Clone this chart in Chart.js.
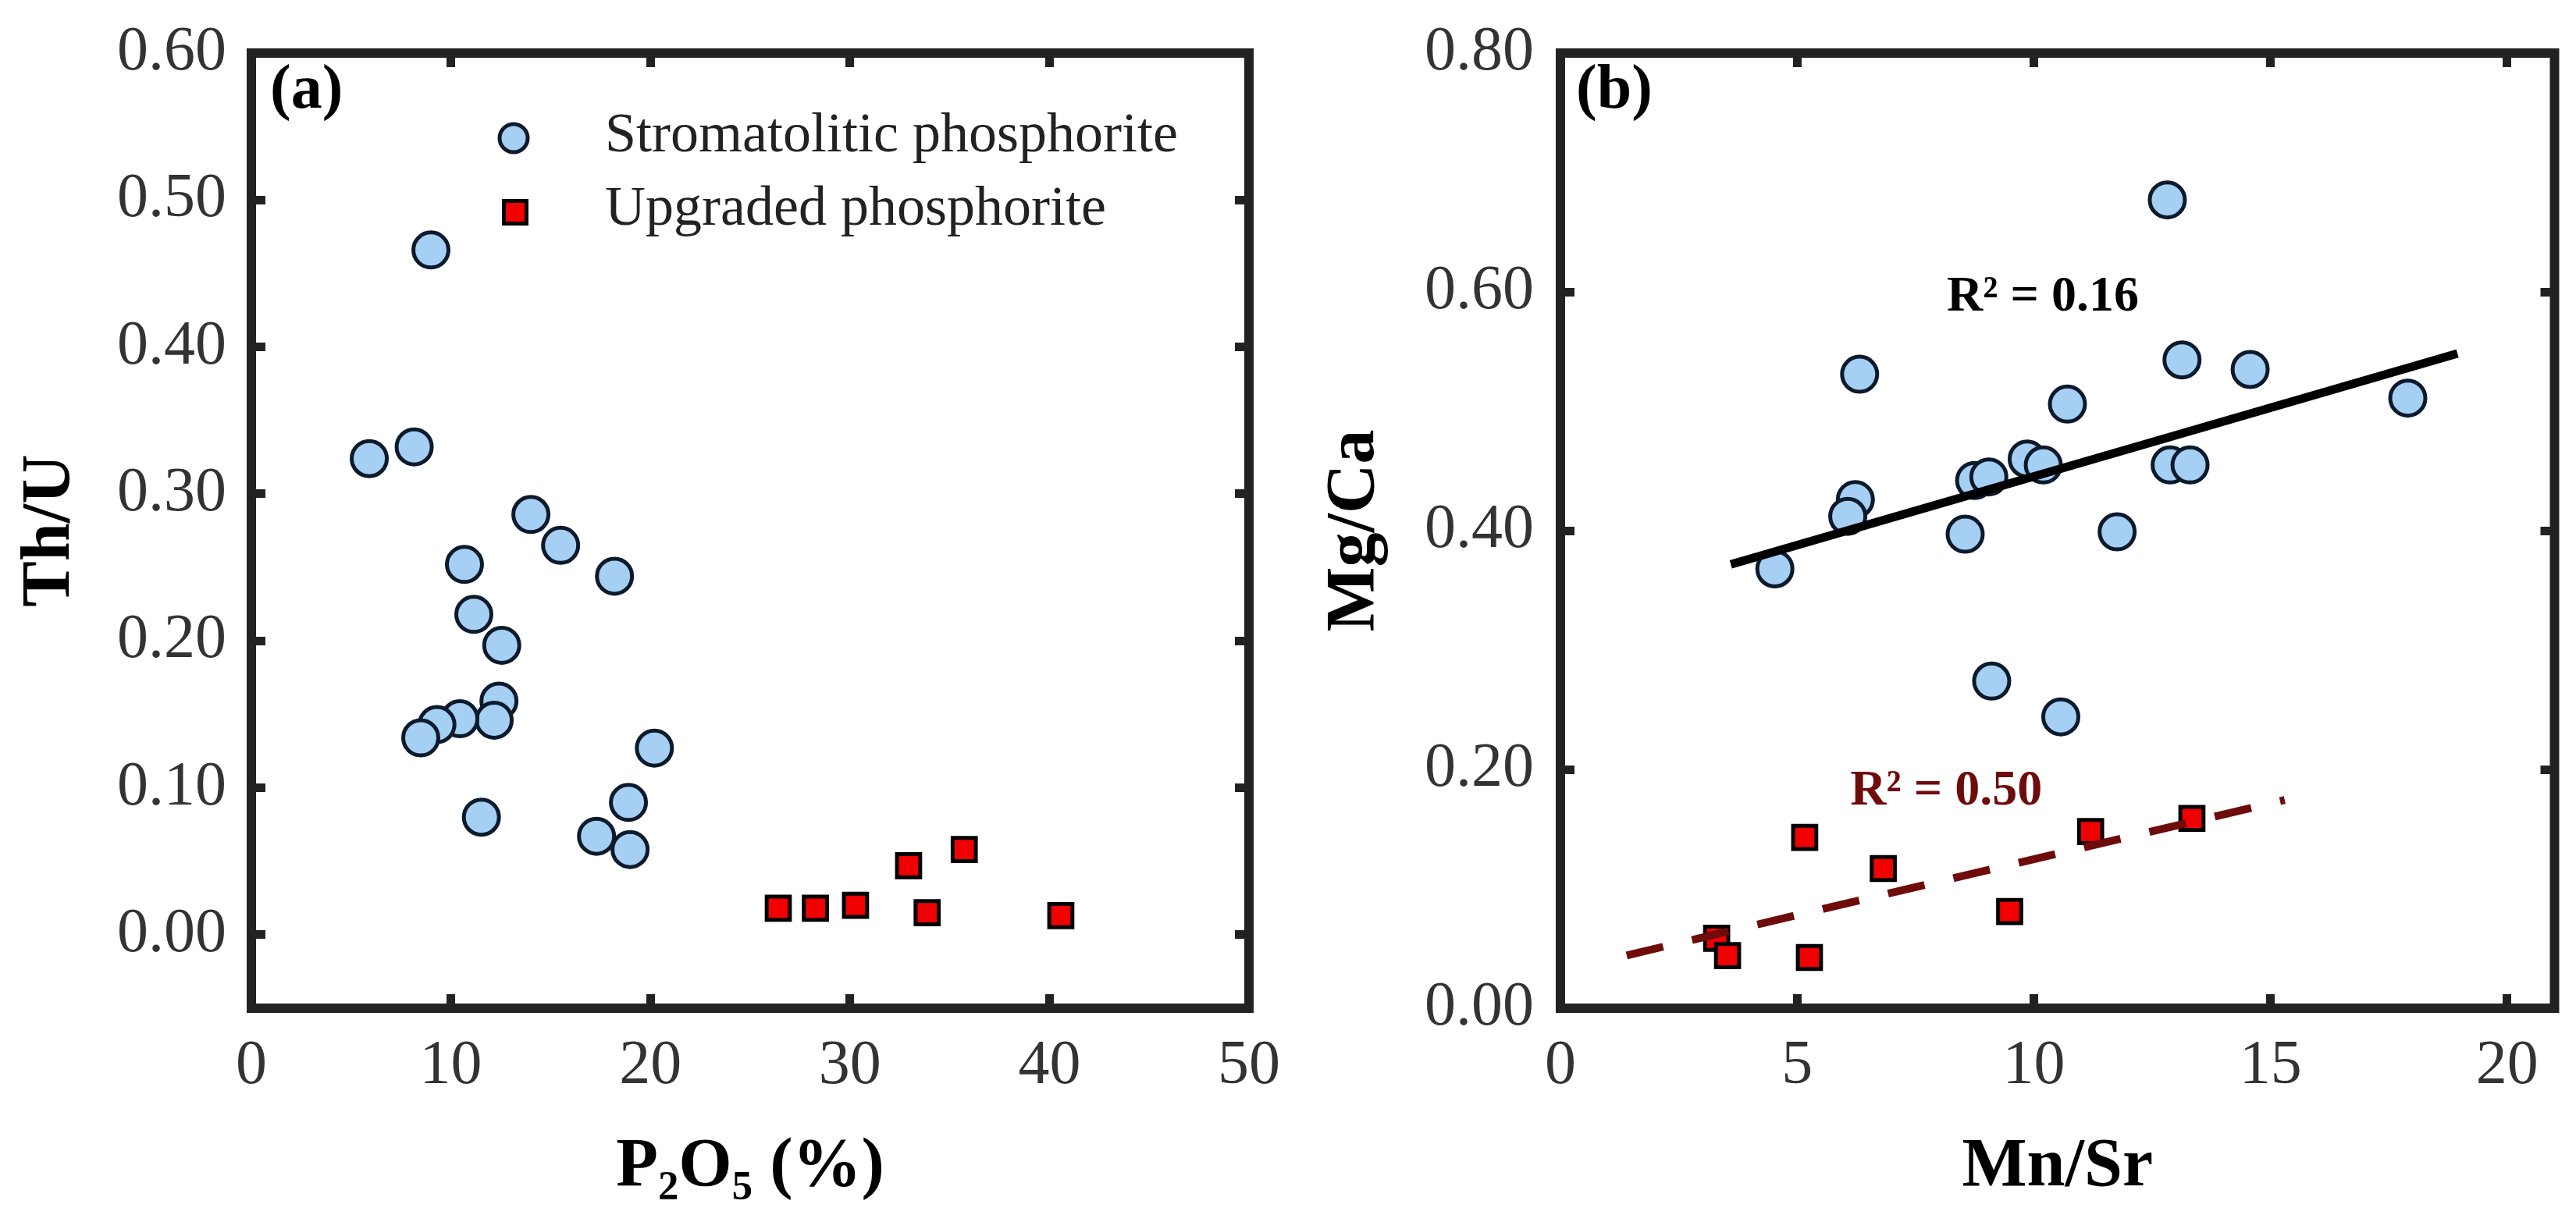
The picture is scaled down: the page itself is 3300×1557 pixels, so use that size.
<!DOCTYPE html>
<html><head><meta charset="utf-8">
<script src="https://cdn.jsdelivr.net/npm/chart.js@4.4.1/dist/chart.umd.min.js"></script>
<style>
html,body{margin:0;padding:0;background:#fff;}
#wrap{position:relative;width:3300px;height:1557px;background:#fff;}
canvas{position:absolute;top:0;}
#ca{left:0;} #cb{left:1650px;}
</style></head><body>
<div id="wrap"><canvas id="ca" width="1650" height="1557"></canvas><canvas id="cb" width="1650" height="1557"></canvas></div>
<script>
// ---------- DATA ----------
// Panel (a): Th/U vs P2O5 (%)
const stromP2O5 = [9.00, 5.91, 8.16, 14.01, 15.50, 18.20, 10.68, 11.15, 12.55, 12.41, 12.17, 10.45, 9.30, 8.49, 20.20, 11.53, 18.90, 17.30, 18.98];
const stromThU  = [0.466, 0.324, 0.332, 0.286, 0.265, 0.244, 0.252, 0.218, 0.197, 0.159, 0.146, 0.147, 0.143, 0.134, 0.127, 0.080, 0.090, 0.067, 0.058];
const upgP2O5   = [26.41, 28.27, 30.28, 32.94, 35.73, 33.87, 40.57];
const upgThU    = [0.018, 0.018, 0.020, 0.047, 0.058, 0.015, 0.013];
// Panel (b): Mg/Ca vs Mn/Sr
const stromMnSr = [12.82, 6.32, 13.13, 14.57, 17.90, 10.71, 9.86, 10.20, 8.75, 9.05, 12.88, 13.30, 6.23, 6.07, 8.55, 11.76, 4.53, 9.11, 10.57];
const stromMgCa = [0.677, 0.531, 0.543, 0.535, 0.511, 0.506, 0.460, 0.455, 0.442, 0.445, 0.455, 0.455, 0.426, 0.412, 0.397, 0.399, 0.368, 0.274, 0.244];
const upgMnSr   = [5.16, 6.82, 11.20, 13.34, 9.49, 3.30, 3.53, 5.26];
const upgMgCa   = [0.143, 0.117, 0.148, 0.159, 0.081, 0.0586, 0.044, 0.0425];
// trend line x-extents
const stromFitRange = [3.6, 18.95];
const upgFitRange   = [1.4, 15.3];
// ticks
const xTicksA = [0, 10, 20, 30, 40, 50];
const yTicksA = [0.00, 0.10, 0.20, 0.30, 0.40, 0.50, 0.60];
const xTicksB = [0, 5, 10, 15, 20];
const yTicksB = [0.00, 0.20, 0.40, 0.60, 0.80];
// texts
const seriesNames = ['Stromatolitic phosphorite', 'Upgraded phosphorite'];
const r2Strom = 'R\u00B2 = 0.16';
const r2Upg = 'R\u00B2 = 0.50';

// ---------- HELPERS ----------
const SERIF = '"Liberation Serif", "DejaVu Serif", serif';
const FRAME = '#222222';
const TICKCOL = '#333333';
const BLUE_FILL = '#a6cff4', BLUE_EDGE = '#0c1a2b';
const RED_FILL = '#f00000', RED_EDGE = '#000000';

const pts = (xs, ys) => xs.map((x, i) => ({x, y: ys[i]}));
function linFit(xs, ys) {
  const n = xs.length;
  const mx = xs.reduce((a, b) => a + b, 0) / n;
  const my = ys.reduce((a, b) => a + b, 0) / n;
  let sxy = 0, sxx = 0;
  for (let i = 0; i < n; i++) { sxy += (xs[i] - mx) * (ys[i] - my); sxx += (xs[i] - mx) ** 2; }
  const m = sxy / sxx;
  return {m, b: my - m * mx};
}
const fitLine = (xs, ys, range) => { const f = linFit(xs, ys); return range.map(x => ({x, y: f.m * x + f.b})); };

const framePlugin = {
  id: 'frame',
  afterDraw(chart) {
    const {ctx, chartArea: a} = chart;
    ctx.save();
    ctx.lineWidth = 12; ctx.strokeStyle = FRAME; ctx.lineJoin = 'miter';
    ctx.strokeRect(a.left, a.top, a.right - a.left, a.bottom - a.top);
    ctx.restore();
  }
};
const textPlugin = {
  id: 'texts',
  afterDraw(chart, args, opts) {
    const ctx = chart.ctx;
    ctx.save();
    (opts.items || []).forEach(t => {
      ctx.font = t.font; ctx.fillStyle = t.color;
      ctx.textAlign = t.align || 'left'; ctx.textBaseline = 'alphabetic';
      let x = t.x, y = t.y;
      if (t.data) { x = chart.scales.x.getPixelForValue(t.x); y = chart.scales.y.getPixelForValue(t.y); }
      ctx.fillText(t.text, x, y);
    });
    // legend
    (opts.legend || []).forEach(l => {
      const ds = chart.data.datasets[l.ds];
      ctx.lineWidth = ds.pointBorderWidth;
      ctx.strokeStyle = ds.pointBorderColor; ctx.fillStyle = ds.pointBackgroundColor;
      ctx.beginPath();
      if (ds.pointStyle === 'circle') ctx.arc(l.mx, l.my, l.size / 2, 0, Math.PI * 2);
      else ctx.rect(l.mx - l.size / 2, l.my - l.size / 2, l.size, l.size);
      ctx.fill(); ctx.stroke();
      ctx.font = l.font; ctx.fillStyle = l.color; ctx.textAlign = 'left'; ctx.textBaseline = 'alphabetic';
      ctx.fillText(ds.label, l.tx, l.ty);
    });
    ctx.restore();
  }
};

function axis(o) {
  const setTicks = arr => (s => { s.ticks = arr.map(v => ({value: v})); });
  const horiz = o.pos === 'bottom' || o.pos === 'top';
  const c = {
    type: 'linear', axis: horiz ? 'x' : 'y', position: o.pos, min: o.min, max: o.max,
    afterBuildTicks: setTicks(o.ticks),
    afterFit: s => {
      if (horiz) s.height = o.size; else s.width = o.size;
      s.paddingLeft = 0; s.paddingRight = 0; s.paddingTop = 0; s.paddingBottom = 0;
    },
    grid: {display: true, drawOnChartArea: false, drawTicks: true, tickLength: -18, tickWidth: 11, tickColor: FRAME},
    border: {display: false},
    ticks: {display: !!o.labels, font: {family: SERIF, size: 80, lineHeight: 1}, color: TICKCOL,
            padding: o.pad || 0, maxRotation: 0, minRotation: 0, autoSkip: false,
            callback: v => o.fmt ? o.fmt(v) : ''},
    title: {display: !!o.title, text: o.title || '', color: '#000',
            font: {family: SERIF, size: 88, weight: 'bold', lineHeight: 1},
            padding: o.titlePad || {top: 0, bottom: 0}}
  };
  return c;
}

function makeChart(id, cfg) {
  return new Chart(document.getElementById(id), {
    type: 'scatter',
    data: {datasets: cfg.datasets},
    options: {
      responsive: false, animation: false, devicePixelRatio: 1, events: [],
      layout: {padding: {left: 0, top: 68, right: cfg.rightPad, bottom: 0}},
      plugins: {legend: {display: false}, tooltip: {enabled: false},
                texts: {items: cfg.texts, legend: cfg.legend || []}},
      scales: {
        x: axis({pos: 'bottom', min: cfg.xMin, max: cfg.xMax, ticks: cfg.xTicks, size: 265, labels: true, pad: 53,
                 fmt: v => String(v), title: cfg.xTitle, titlePad: {top: 0, bottom: 17}}),
        y: axis({pos: 'left', min: cfg.yMin, max: cfg.yMax, ticks: cfg.yTicks, size: cfg.yAxisW, labels: true, pad: cfg.yPad,
                 fmt: v => v.toFixed(2), title: cfg.yTitle, titlePad: {top: cfg.yTitlePad, bottom: 0}}),
        x2: axis({pos: 'top', min: cfg.xMin, max: cfg.xMax, ticks: cfg.xTicks, size: 0}),
        y2: axis({pos: 'right', min: cfg.yMin, max: cfg.yMax, ticks: cfg.yTicks, size: 0})
      }
    },
    plugins: [framePlugin, textPlugin]
  });
}

const blueStyle = {pointStyle: 'circle', pointRadius: 22.5, pointBorderWidth: 5, pointBorderColor: BLUE_EDGE, pointBackgroundColor: BLUE_FILL, showLine: false};
const redStyle  = {pointStyle: 'rect', pointRadius: 21, pointBorderWidth: 5, pointBorderColor: RED_EDGE, pointBackgroundColor: RED_FILL, showLine: false};

// Panel (a)
makeChart('ca', {
  datasets: [
    Object.assign({label: seriesNames[0], data: pts(stromP2O5, stromThU), order: 2}, blueStyle),
    Object.assign({label: seriesNames[1], data: pts(upgP2O5, upgThU), order: 1}, redStyle)
  ],
  xMin: 0, xMax: 50, yMin: -0.05, yMax: 0.6, xTicks: xTicksA, yTicks: yTicksA,
  rightPad: 50, yAxisW: 322, yPad: 50, yTitlePad: 21,
  xTitle: 'P\u2082O\u2085 (%)', yTitle: 'Th/U',
  texts: [{text: '(a)', x: 346, y: 138, font: 'bold 80px ' + SERIF, color: '#000'}],
  legend: [
    {ds: 0, mx: 658, my: 177, size: 36, tx: 775, ty: 194, font: '72px ' + SERIF, color: '#222'},
    {ds: 1, mx: 660, my: 272, size: 29, tx: 775, ty: 288, font: '72px ' + SERIF, color: '#222'}
  ]
});

// Panel (b)
makeChart('cb', {
  datasets: [
    {label: 'Stromatolitic trend', data: fitLine(stromMnSr, stromMgCa, stromFitRange), showLine: true, pointRadius: 0,
     borderColor: '#000000', borderWidth: 11, order: 0},
    {label: 'Upgraded trend', data: fitLine(upgMnSr, upgMgCa, upgFitRange), showLine: true, pointRadius: 0,
     borderColor: '#6e0b0b', borderWidth: 10, borderDash: [48, 38], order: 0},
    Object.assign({label: seriesNames[0], data: pts(stromMnSr, stromMgCa), order: 2}, blueStyle),
    Object.assign({label: seriesNames[1], data: pts(upgMnSr, upgMgCa), order: 1}, redStyle)
  ],
  xMin: 0, xMax: 21, yMin: 0, yMax: 0.8, xTicks: xTicksB, yTicks: yTicksB,
  rightPad: 21, yAxisW: 349, yPad: 52, yTitlePad: 42,
  xTitle: 'Mn/Sr', yTitle: 'Mg/Ca',
  texts: [
    {text: '(b)', x: 369, y: 138, font: 'bold 80px ' + SERIF, color: '#000'},
    {text: r2Strom, x: 10.19, y: 0.584, data: true, align: 'center', font: 'bold 64px ' + SERIF, color: '#000'},
    {text: r2Upg, x: 8.15, y: 0.1706, data: true, align: 'center', font: 'bold 64px ' + SERIF, color: '#6e0b0b'}
  ]
});
</script>
</body></html>
